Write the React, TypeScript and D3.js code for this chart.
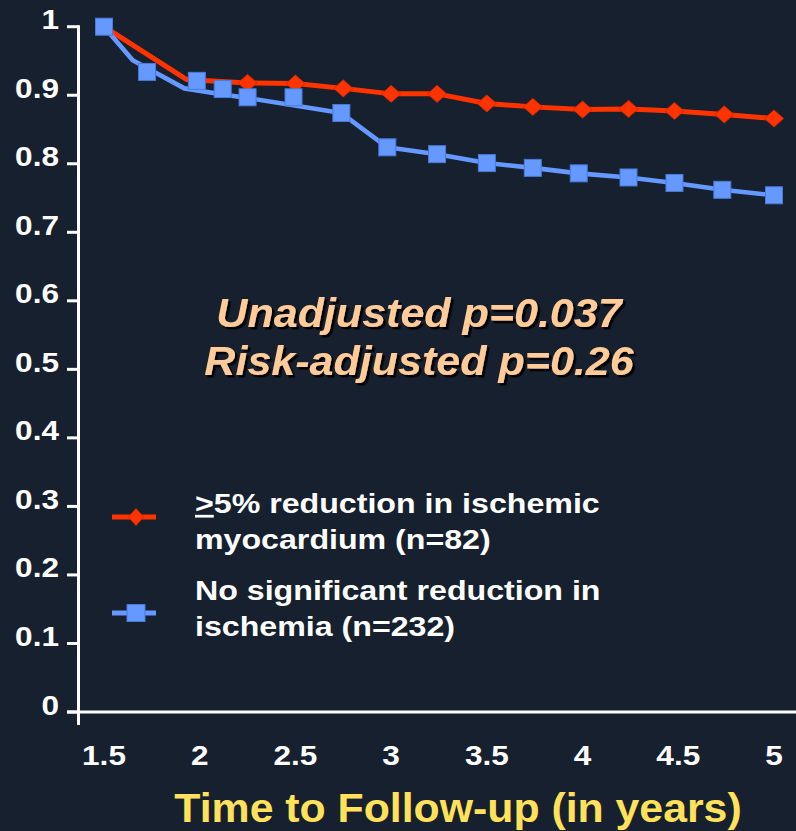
import React from "react";
import * as d3 from "d3";

// Kaplan-Meier style event-free survival, two groups
const redCurveTimes = [1.5, 1.93, 2.25, 2.5, 2.75, 3.0, 3.24, 3.5, 3.74, 4.0, 4.24, 4.48, 4.74, 5.0];
const redCurveValues = [1.0, 0.923, 0.918, 0.917, 0.91, 0.902, 0.902, 0.888, 0.883, 0.879, 0.88, 0.877, 0.872, 0.866];
const redMarkerTimes = [2.25, 2.5, 2.75, 3.0, 3.24, 3.5, 3.74, 4.0, 4.24, 4.48, 4.74, 5.0];
const redMarkerValues = [0.918, 0.917, 0.91, 0.902, 0.902, 0.888, 0.883, 0.879, 0.88, 0.877, 0.872, 0.866];

const blueCurveTimes = [1.5, 1.65, 1.92, 2.12, 2.25, 2.74, 2.98, 3.24, 3.5, 3.74, 3.98, 4.24, 4.48, 4.73, 5.0];
const blueCurveValues = [1.0, 0.951, 0.91, 0.901, 0.896, 0.874, 0.824, 0.814, 0.801, 0.794, 0.786, 0.78, 0.772, 0.762, 0.754];
const blueMarkerTimes = [1.5, 1.725, 1.985, 2.12, 2.25, 2.49, 2.74, 2.98, 3.24, 3.5, 3.74, 3.98, 4.24, 4.48, 4.73, 5.0];
const blueMarkerValues = [1.0, 0.934, 0.921, 0.909, 0.897, 0.897, 0.874, 0.824, 0.814, 0.801, 0.794, 0.786, 0.78, 0.772, 0.762, 0.754];

const yTicks = [0, 0.1, 0.2, 0.3, 0.4, 0.5, 0.6, 0.7, 0.8, 0.9, 1];
const xTicks = [1.5, 2, 2.5, 3, 3.5, 4, 4.5, 5];

const legendRed = ["5% reduction in ischemic", "myocardium (n=82)"];
const legendBlue = ["No significant reduction in", "ischemia (n=232)"];
const annotation = ["Unadjusted p=0.037", "Risk-adjusted p=0.26"];
const xTitle = "Time to Follow-up (in years)";

const W = 796;
const H = 831;
const BG = "#17202e";
const RED = "#ff3300";
const RED_EDGE = "#d42a00";
const BLUE = "#6699ff";
const BLUE_EDGE = "#4a7ad8";
const FONT = "'Liberation Sans', Arial, Helvetica, sans-serif";

const x = d3.scaleLinear().domain([1.5, 5]).range([104, 774]);
const y = d3.scaleLinear().domain([0, 1]).range([712, 26.7]);

const zip = (ts: number[], vs: number[]) => ts.map((t, i) => [t, vs[i]] as [number, number]);

const line = d3
  .line<[number, number]>()
  .x((d) => x(d[0]))
  .y((d) => y(d[1]));

function diamondPath(cx: number, cy: number, hw: number, hh: number) {
  const p = d3.path();
  p.moveTo(cx, cy - hh);
  p.lineTo(cx + hw, cy);
  p.lineTo(cx, cy + hh);
  p.lineTo(cx - hw, cy);
  p.closePath();
  return p.toString();
}

export default function App() {
  const axisX = 78.5;
  const axisY = y(0);
  const red = zip(redCurveTimes, redCurveValues);
  const blue = zip(blueCurveTimes, blueCurveValues);
  const redMarks = zip(redMarkerTimes, redMarkerValues);
  const blueMarks = zip(blueMarkerTimes, blueMarkerValues);
  const sq = 17;

  return (
    <svg
      width={W}
      height={H}
      viewBox={`0 0 ${W} ${H}`}
      style={{ position: "absolute", left: 0, top: 0, display: "block" }}
      fontFamily={FONT}
      fontWeight="bold"
    >
      <defs>
        <filter id="textShadow" x="-5%" y="-20%" width="110%" height="150%">
          <feDropShadow dx={2.5} dy={2.5} stdDeviation={0.4} floodColor="#000" floodOpacity={1} />
        </filter>
      </defs>
      <rect width={W} height={H} fill={BG} />

      {/* axes */}
      <line x1={axisX} x2={axisX} y1={y(1) - 1.5} y2={axisY + 13} stroke="#fff" strokeWidth={3} />
      <line x1={67} x2={W} y1={axisY} y2={axisY} stroke="#fff" strokeWidth={3} />
      {yTicks.map((t) => (
        <g key={t}>
          <line x1={67} x2={axisX} y1={y(t)} y2={y(t)} stroke="#fff" strokeWidth={3} />
          <text
            transform={`translate(59, ${y(t) + 2.5}) scale(1.17, 1)`}
            textAnchor="end"
            fontSize={27}
            fill="#fff"
          >
            {String(t)}
          </text>
        </g>
      ))}
      {xTicks.map((t) => (
        <text
          key={t}
          transform={`translate(${x(t)}, 765) scale(1.17, 1)`}
          textAnchor="middle"
          fontSize={27}
          fill="#fff"
        >
          {String(t)}
        </text>
      ))}
      <text
        transform={`translate(458, 822) scale(1.07, 1)`}
        textAnchor="middle"
        fontSize={40}
        fill="#ffe15a"
      >
        {xTitle}
      </text>

      {/* red group */}
      <path d={line(red) ?? ""} fill="none" stroke={RED} strokeWidth={5} strokeLinejoin="round" />
      {redMarks.map((d, i) => (
        <path
          key={i}
          d={diamondPath(x(d[0]), y(d[1]), 9.5, 8.5)}
          fill={RED}
          stroke={RED_EDGE}
          strokeWidth={1}
        />
      ))}

      {/* blue group */}
      <path d={line(blue) ?? ""} fill="none" stroke={BLUE} strokeWidth={4.6} strokeLinejoin="round" />
      {blueMarks.map((d, i) => (
        <rect
          key={i}
          x={x(d[0]) - sq / 2}
          y={y(d[1]) - sq / 2}
          width={sq}
          height={sq}
          fill={BLUE}
          stroke={BLUE_EDGE}
          strokeWidth={1}
        />
      ))}

      {/* p-value annotation with drop shadow */}
      <g fontStyle="italic" fontSize={41} fill="#ffcc99" filter="url(#textShadow)">
        {annotation.map((s, i) => (
          <text
            key={s}
            transform={`translate(419, ${326.7 + i * 48}) scale(1.05, 1)`}
            textAnchor="middle"
          >
            {s}
          </text>
        ))}
      </g>

      {/* legend */}
      <line x1={112} x2={156} y1={517} y2={517} stroke={RED} strokeWidth={5} />
      <path d={diamondPath(136, 517, 7.5, 8.5)} fill={RED} stroke={RED_EDGE} strokeWidth={1} />
      <line x1={112} x2={156} y1={613} y2={613} stroke={BLUE} strokeWidth={5} />
      <rect x={127} y={604.5} width={18} height={17} fill={BLUE} stroke={BLUE_EDGE} strokeWidth={1} />

      <g fontSize={27.5} fill="#fff">
        <text transform="translate(195, 513) scale(1.17, 1)">
          <tspan style={{ textDecoration: "underline" }}>{">"}</tspan>
          {legendRed[0]}
        </text>
        <text transform="translate(195, 549) scale(1.17, 1)">{legendRed[1]}</text>
        <text transform="translate(195, 600) scale(1.17, 1)">{legendBlue[0]}</text>
        <text transform="translate(195, 636) scale(1.17, 1)">{legendBlue[1]}</text>
      </g>
    </svg>
  );
}
